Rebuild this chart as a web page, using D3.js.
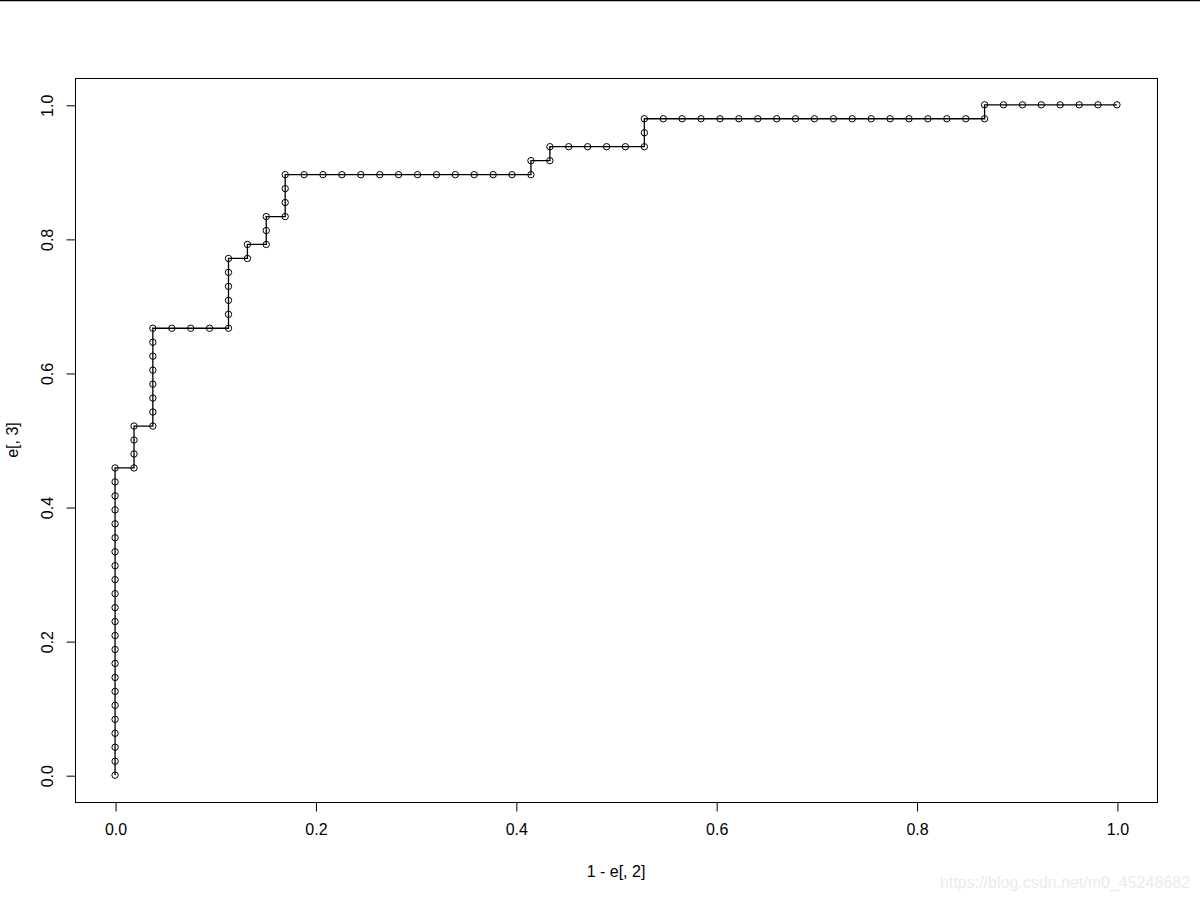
<!DOCTYPE html>
<html>
<head>
<meta charset="utf-8">
<script src="https://cdn.jsdelivr.net/npm/d3@7"></script>
<style>
  html, body { margin: 0; padding: 0; background: #fff; }
  svg { display: block; }
  text { font-family: "Liberation Sans", Arial, sans-serif; }
</style>
</head>
<body>
<svg id="chart" width="1200" height="900"></svg>
<script>
// 1 - e[, 2]  (x values)
const fpr = [
  0,0,0,0,0,0,0,0,0,0,0,0,0,0,0,0,0,0,0,0,0,0,0,
  0.0189,0.0189,0.0189,0.0189,
  0.0377,0.0377,0.0377,0.0377,0.0377,0.0377,0.0377,0.0377,
  0.0566,0.0755,0.0943,0.1132,
  0.1132,0.1132,0.1132,0.1132,0.1132,
  0.1321,0.1321,
  0.1509,0.1509,0.1509,
  0.1698,0.1698,0.1698,0.1698,
  0.1887,0.2075,0.2264,0.2453,0.2642,0.2830,0.3019,0.3208,0.3396,0.3585,0.3774,0.3962,0.4151,
  0.4151,
  0.4340,0.4340,
  0.4528,0.4717,0.4906,0.5094,0.5283,
  0.5283,0.5283,
  0.5472,0.5660,0.5849,0.6038,0.6226,0.6415,0.6604,0.6792,0.6981,0.7170,0.7358,0.7547,0.7736,0.7925,0.8113,0.8302,0.8491,0.8679,
  0.8679,
  0.8868,0.9057,0.9245,0.9434,0.9623,0.9811,1
];
// e[, 3]  (y values)
const tpr = [
  0,0.0208,0.0417,0.0625,0.0833,0.1042,0.125,0.1458,0.1667,0.1875,0.2083,0.2292,0.25,0.2708,0.2917,0.3125,0.3333,0.3542,0.375,0.3958,0.4167,0.4375,0.4583,
  0.4583,0.4792,0.5,0.5208,
  0.5208,0.5417,0.5625,0.5833,0.6042,0.625,0.6458,0.6667,
  0.6667,0.6667,0.6667,0.6667,
  0.6875,0.7083,0.7292,0.75,0.7708,
  0.7708,0.7917,
  0.7917,0.8125,0.8333,
  0.8333,0.8542,0.875,0.8958,
  0.8958,0.8958,0.8958,0.8958,0.8958,0.8958,0.8958,0.8958,0.8958,0.8958,0.8958,0.8958,0.8958,
  0.9167,
  0.9167,0.9375,
  0.9375,0.9375,0.9375,0.9375,0.9375,
  0.9583,0.9792,
  0.9792,0.9792,0.9792,0.9792,0.9792,0.9792,0.9792,0.9792,0.9792,0.9792,0.9792,0.9792,0.9792,0.9792,0.9792,0.9792,0.9792,0.9792,
  1,
  1,1,1,1,1,1,1
];
const xTicks = [0, 0.2, 0.4, 0.6, 0.8, 1.0];
const yTicks = [0, 0.2, 0.4, 0.6, 0.8, 1.0];
const xTickLabels = ["0.0", "0.2", "0.4", "0.6", "0.8", "1.0"];
const yTickLabels = ["0.0", "0.2", "0.4", "0.6", "0.8", "1.0"];
const xTitle = "1 - e[, 2]";
const yTitle = "e[, 3]";
const watermark = "https://blog.csdn.net/m0_45248682";

const points = fpr.map((x, i) => ({ x: x, y: tpr[i] }));

const svg = d3.select("#chart");

// top border line of the image
svg.append("line")
  .attr("x1", 0).attr("x2", 1200).attr("y1", 0.5).attr("y2", 0.5)
  .attr("stroke", "#000").attr("stroke-width", 1.5);

const box = { left: 75, right: 1157, top: 78, bottom: 802 };

const x = d3.scaleLinear().domain([-0.04, 1.04]).range([box.left, box.right]);
const y = d3.scaleLinear().domain([-0.04, 1.04]).range([box.bottom, box.top]);

// plot box
svg.append("rect")
  .attr("x", box.left + 0.5).attr("y", box.top + 0.5)
  .attr("width", box.right - box.left).attr("height", box.bottom - box.top)
  .attr("fill", "none").attr("stroke", "#000").attr("stroke-width", 1);

// x axis
const xAxis = d3.axisBottom(x)
  .tickValues(xTicks)
  .tickFormat((d, i) => xTickLabels[i])
  .tickSize(9).tickPadding(12);
const gx = svg.append("g")
  .attr("transform", `translate(0.5,${box.bottom + 0.5})`)
  .call(xAxis);
gx.selectAll("text").attr("font-size", 16).attr("fill", "#000")
  .attr("font-family", "'Liberation Sans', Arial, sans-serif");
gx.selectAll("line").attr("stroke", "#000");
gx.select(".domain").remove();

// y axis
const yAxis = d3.axisLeft(y)
  .tickValues(yTicks)
  .tickFormat((d, i) => yTickLabels[i])
  .tickSize(9).tickPadding(0);
const gy = svg.append("g")
  .attr("transform", `translate(${box.left + 0.5},0.5)`)
  .call(yAxis);
gy.select(".domain").remove();
gy.selectAll("line").attr("stroke", "#000");
gy.selectAll(".tick text")
  .attr("x", 0).attr("dy", null)
  .attr("text-anchor", "middle")
  .attr("font-size", 16).attr("fill", "#000")
  .attr("font-family", "'Liberation Sans', Arial, sans-serif")
  .attr("transform", "translate(-28,0) rotate(-90)")
  .attr("dominant-baseline", "central");

// axis titles
svg.append("text")
  .attr("x", (box.left + box.right) / 2).attr("y", 877)
  .attr("text-anchor", "middle").attr("font-size", 16).attr("fill", "#000")
  .text(xTitle);
svg.append("text")
  .attr("transform", `translate(18,${(box.top + box.bottom) / 2}) rotate(-90)`)
  .attr("text-anchor", "middle").attr("font-size", 16).attr("fill", "#000")
  .text(yTitle);

// line
const line = d3.line().x(d => x(d.x)).y(d => y(d.y));
svg.append("path")
  .datum(points)
  .attr("d", line)
  .attr("fill", "none").attr("stroke", "#000").attr("stroke-width", 1.3);

// points
svg.append("g").selectAll("circle")
  .data(points)
  .enter().append("circle")
  .attr("cx", d => x(d.x)).attr("cy", d => y(d.y))
  .attr("r", 3.2)
  .attr("fill", "none").attr("stroke", "#000").attr("stroke-width", 1);

// watermark
svg.append("text")
  .attr("x", 1190).attr("y", 888)
  .attr("text-anchor", "end").attr("font-size", 16)
  .attr("fill", "#ebebeb")
  .text(watermark);
</script>
</body>
</html>
